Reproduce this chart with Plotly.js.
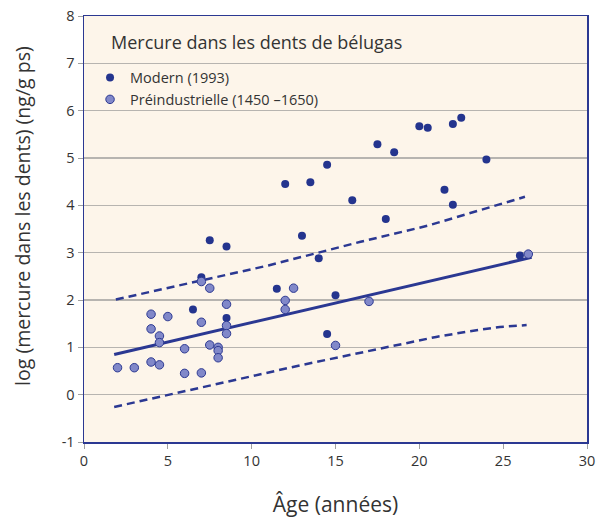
<!DOCTYPE html>
<html>
<head>
<meta charset="utf-8">
<script src="https://cdn.plot.ly/plotly-3.0.1.min.js"></script>
<style>
html,body{margin:0;padding:0;background:#fff;}
#chart{width:597px;height:518px;}
</style>
</head>
<body>
<div id="chart"></div>
<script>
// Modern (1993) samples: age (years), log mercury
var modernAge = [7.5, 8.5, 7, 11.5, 6.5, 8.5, 12, 13.5, 14.5, 17.5, 18.5, 20, 20.5, 22, 22.5, 24, 21.5, 22, 16, 18, 13, 14, 15, 14.5, 26];
var modernHg  = [3.26, 3.13, 2.48, 2.24, 1.80, 1.62, 4.45, 4.49, 4.86, 5.29, 5.12, 5.67, 5.64, 5.72, 5.85, 4.97, 4.33, 4.01, 4.11, 3.71, 3.36, 2.88, 2.10, 1.28, 2.94];

// Préindustrielle (1450-1650) samples
var preAge = [7, 7.5, 8.5, 4, 5, 7, 8.5, 4, 8.5, 4.5, 4.5, 6, 7.5, 8, 8, 8, 2, 3, 4, 4.5, 6, 7, 12.5, 12, 12, 17, 15, 26.5];
var preHg  = [2.39, 2.25, 1.91, 1.70, 1.65, 1.53, 1.46, 1.39, 1.29, 1.24, 1.10, 0.97, 1.05, 1.00, 0.93, 0.78, 0.57, 0.57, 0.69, 0.63, 0.45, 0.46, 2.25, 1.99, 1.80, 1.97, 1.04, 2.97];

// Regression line and prediction bands
var fitAge = [1.8, 26.7];
var fitHg  = [0.85, 2.90];
var upperAge = [1.9, 6, 11, 16.5, 20.5, 26.3];
var upperHg  = [2.01, 2.33, 2.73, 3.23, 3.57, 4.18];
var lowerAge = [1.8, 5, 9, 12.9, 18, 21, 23, 24.8, 26.4];
var lowerHg  = [-0.26, 0.0, 0.31, 0.62, 1.00, 1.22, 1.34, 1.43, 1.47];

// Tick labels
var xTickVals = [0, 5, 10, 15, 20, 25, 30];
var xTickText = ['0', '5', '10', '15', '20', '25', '30'];
var yTickVals = [-1, 0, 1, 2, 3, 4, 5, 6, 7, 8];
var yTickText = ['-1', '0', '1', '2', '3', '4', '5', '6', '7', '8'];

var chartTitle = 'Mercure dans les dents de bélugas';
var xTitle = 'Âge (années)';
var yTitle = 'log (mercure dans les dents) (ng/g ps)';
var modernName = 'Modern (1993)';
var preName = 'Préindustrielle (1450 –1650)';

var navy = '#2b3892';
var font = 'Open Sans, Lato, sans-serif';

var traces = [
  {x: upperAge, y: upperHg, mode: 'lines', line: {color: navy, width: 2.5, dash: '8px,5px'}, showlegend: false, hoverinfo: 'skip'},
  {x: lowerAge, y: lowerHg, mode: 'lines', line: {color: navy, width: 2.5, dash: '8px,5px'}, showlegend: false, hoverinfo: 'skip'},
  {x: fitAge, y: fitHg, mode: 'lines', line: {color: navy, width: 3}, showlegend: false, hoverinfo: 'skip'},
  {x: modernAge, y: modernHg, mode: 'markers', name: modernName,
   marker: {color: '#24348e', size: 8, line: {width: 0}}},
  {x: preAge, y: preHg, mode: 'markers', name: preName,
   marker: {color: '#8188c9', size: 8.5, line: {color: '#2e3a92', width: 1}}}
];

var layout = {
  width: 597, height: 518,
  margin: {l: 84, r: 10, t: 16, b: 76},
  paper_bgcolor: '#ffffff',
  plot_bgcolor: '#fdf5ea',
  font: {family: font, color: '#333333', size: 14},
  showlegend: true,
  legend: {x: 0.012, xanchor: 'left', y: 0.893, yanchor: 'top', bgcolor: 'rgba(0,0,0,0)',
           font: {family: font, size: 14.5, color: '#333333'}, tracegroupgap: 0},
  xaxis: {
    range: [0, 30], tickmode: 'array', tickvals: xTickVals, ticktext: xTickText,
    showgrid: false, zeroline: false,
    showline: true, linecolor: navy, linewidth: 1.5, mirror: true,
    ticks: 'outside', ticklen: 5, tickcolor: '#a0a0a0', tickwidth: 1,
    tickfont: {family: font, size: 14.5, color: '#333333'},
    title: {text: xTitle, font: {family: font, size: 21, color: '#333333'}, standoff: 29}
  },
  yaxis: {
    range: [-1, 8], tickmode: 'array', tickvals: yTickVals, ticktext: yTickText,
    showgrid: true, gridcolor: '#b7b4b0', gridwidth: 1.5,
    zeroline: false,
    showline: true, linecolor: navy, linewidth: 1.5, mirror: true,
    ticks: 'outside', ticklen: 5, tickcolor: '#a0a0a0', tickwidth: 1,
    tickfont: {family: font, size: 14.5, color: '#333333'}
  },
  annotations: [
    {text: chartTitle, xref: 'paper', yref: 'paper', x: 0.05, y: 0.938, xanchor: 'left', yanchor: 'middle',
     showarrow: false, font: {family: font, size: 18, color: '#333333'}},
    {text: yTitle, xref: 'paper', yref: 'paper', x: -0.121, y: 0.531, xanchor: 'center', yanchor: 'middle',
     textangle: -90, showarrow: false, font: {family: font, size: 19.5, color: '#333333'}}
  ]
};

Plotly.newPlot('chart', traces, layout, {displayModeBar: false, staticPlot: true});
</script>
</body>
</html>
